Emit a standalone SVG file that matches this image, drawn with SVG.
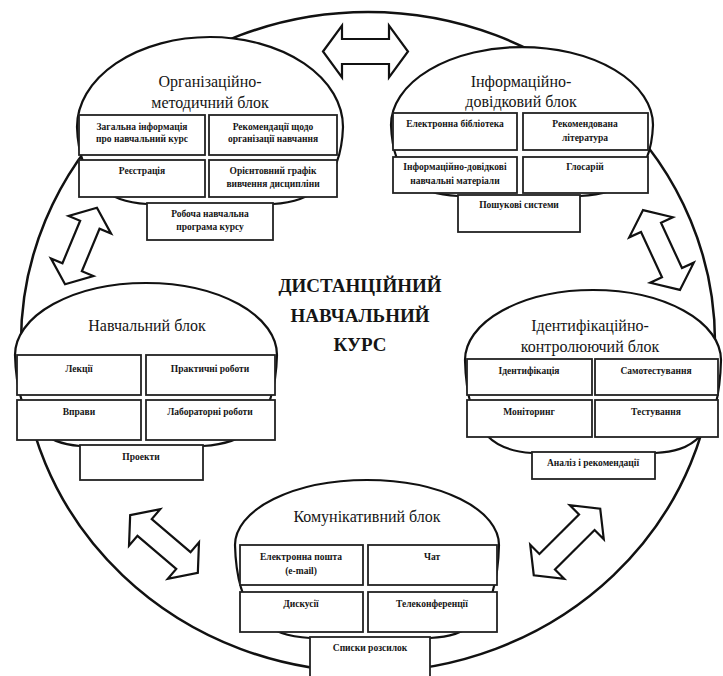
<svg xmlns="http://www.w3.org/2000/svg" width="723" height="676" viewBox="0 0 723 676">
<style>
.bg{fill:#fff}
.ring{fill:none;stroke:#111;stroke-width:2.5}
.dome{fill:#fff;stroke:#111;stroke-width:2.2}
.cell{fill:#fff;stroke:#222;stroke-width:1.8}
.arrow{fill:#fff;stroke:#111;stroke-width:2.2;stroke-linejoin:miter}
.t{fill:#151515;text-anchor:middle;dominant-baseline:middle}
.title{font-size:16px}
.ct{font-size:9.5px;font-weight:bold}
.main{font-size:19px;font-weight:bold}
</style>
<rect class="bg" x="0" y="0" width="723" height="676"/>
<g id="course-boundary">
<ellipse class="ring" cx="368" cy="342" rx="347" ry="330"/>
</g>
<g id="connectors">
<polygon class="arrow" transform="translate(365.5,51.5)" points="-42.5,0 -23.5,-26 -23.5,-12.5 23.5,-12.5 23.5,-26 42.5,0 23.5,26 23.5,12.5 -23.5,12.5 -23.5,26"/>
<polygon class="arrow" transform="translate(81,246) rotate(112.6)" points="-41.5,0 -23,-23 -23,-10.5 23,-10.5 23,-23 41.5,0 23,23 23,10.5 -23,10.5 -23,23"/>
<polygon class="arrow" transform="translate(661.5,250) rotate(65.2)" points="-44,0 -25,-24 -25,-11 25,-11 25,-24 44,0 25,24 25,11 -25,11 -25,24"/>
<polygon class="arrow" transform="translate(164,544) rotate(40.5)" points="-44.5,0 -25.5,-24 -25.5,-11 25.5,-11 25.5,-24 44.5,0 25.5,24 25.5,11 -25.5,11 -25.5,24"/>
<polygon class="arrow" transform="translate(567,542) rotate(135)" points="-47,0 -28,-24 -28,-11 28,-11 28,-24 47,0 28,24 28,11 -28,11 -28,24"/>
</g>
<g id="org-block" font-family="Liberation Serif, DejaVu Serif, serif">
<path class="dome" d="M147,204 C110,202 79,185 77,127 A133,90 0 0 1 343,127 C341,185 310,202 273,204 Z"/>
<text class="t title" x="210" y="83">Організаційно-</text>
<text class="t title" x="210" y="104">методичний блок</text>
<rect class="cell" x="79" y="115" width="126" height="40"/>
<rect class="cell" x="209" y="115" width="128" height="40"/>
<rect class="cell" x="79" y="160" width="126" height="37"/>
<rect class="cell" x="209" y="160" width="128" height="37"/>
<rect class="cell" x="147" y="203" width="126" height="37"/>
<text class="t ct" x="142" y="128">Загальна інформація</text>
<text class="t ct" x="142" y="140">про навчальний курс</text>
<text class="t ct" x="273" y="128">Рекомендації щодо</text>
<text class="t ct" x="273" y="140">організації навчання</text>
<text class="t ct" x="142" y="172">Реєстрація</text>
<text class="t ct" x="273" y="172">Орієнтовний графік</text>
<text class="t ct" x="273" y="185">вивчення дисципліни</text>
<text class="t ct" x="210" y="215">Робоча навчальна</text>
<text class="t ct" x="210" y="228">програма курсу</text>
</g>
<g id="info-block" font-family="Liberation Serif, DejaVu Serif, serif">
<path class="dome" d="M458,196 C420,194 393,180 391,125 A131,78 0 0 1 653,125 C651,180 620,194 580,196 Z"/>
<text class="t title" x="521" y="83">Інформаційно-</text>
<text class="t title" x="521" y="103">довідковий блок</text>
<rect class="cell" x="393" y="113" width="124" height="37"/>
<rect class="cell" x="523" y="113" width="125" height="37"/>
<rect class="cell" x="393" y="157" width="124" height="36"/>
<rect class="cell" x="523" y="157" width="125" height="36"/>
<rect class="cell" x="458" y="195" width="122" height="37"/>
<text class="t ct" x="455" y="125">Електронна бібліотека</text>
<text class="t ct" x="585" y="125">Рекомендована</text>
<text class="t ct" x="585" y="139">література</text>
<text class="t ct" x="455" y="168">Інформаційно-довідкові</text>
<text class="t ct" x="455" y="182">навчальні матеріали</text>
<text class="t ct" x="585" y="168">Глосарій</text>
<text class="t ct" x="519" y="206">Пошукові системи</text>
</g>
<g id="learn-block" font-family="Liberation Serif, DejaVu Serif, serif">
<path class="dome" d="M80,446 C50,444 17,430 15,355 A131,72 0 0 1 277,355 C275,430 240,444 203,446 Z"/>
<text class="t title" x="147" y="327">Навчальний блок</text>
<rect class="cell" x="17" y="355" width="124" height="40"/>
<rect class="cell" x="146" y="355" width="129" height="40"/>
<rect class="cell" x="17" y="400" width="124" height="40"/>
<rect class="cell" x="146" y="400" width="129" height="40"/>
<rect class="cell" x="80" y="445" width="123" height="35"/>
<text class="t ct" x="79" y="370">Лекції</text>
<text class="t ct" x="210" y="370">Практичні роботи</text>
<text class="t ct" x="79" y="413">Вправи</text>
<text class="t ct" x="210" y="413">Лабораторні роботи</text>
<text class="t ct" x="141" y="458">Проекти</text>
</g>
<g id="ident-block" font-family="Liberation Serif, DejaVu Serif, serif">
<path class="dome" d="M532,453 C500,451 467,440 465,360 A128,70 0 0 1 721,360 C719,440 690,451 655,453 Z"/>
<text class="t title" x="590" y="327">Ідентифікаційно-</text>
<text class="t title" x="590" y="348">контролюючий блок</text>
<rect class="cell" x="467" y="359" width="125" height="36"/>
<rect class="cell" x="595" y="359" width="123" height="36"/>
<rect class="cell" x="467" y="400" width="125" height="37"/>
<rect class="cell" x="595" y="400" width="123" height="37"/>
<rect class="cell" x="532" y="452" width="123" height="27"/>
<text class="t ct" x="529" y="372">Ідентифікація</text>
<text class="t ct" x="656" y="372">Самотестування</text>
<text class="t ct" x="529" y="413">Моніторинг</text>
<text class="t ct" x="656" y="413">Тестування</text>
<text class="t ct" x="593" y="464">Аналіз і рекомендації</text>
</g>
<g id="comm-block" font-family="Liberation Serif, DejaVu Serif, serif">
<path class="dome" d="M310,638 C275,636 237,625 235,545 A132,65 0 0 1 499,545 C497,625 465,636 430,638 Z"/>
<text class="t title" x="367" y="518">Комунікативний блок</text>
<rect class="cell" x="240" y="545" width="123" height="40"/>
<rect class="cell" x="368" y="545" width="129" height="40"/>
<rect class="cell" x="240" y="592" width="123" height="40"/>
<rect class="cell" x="368" y="592" width="129" height="40"/>
<rect class="cell" x="310" y="637" width="120" height="45"/>
<text class="t ct" x="301" y="558">Електронна пошта</text>
<text class="t ct" x="301" y="572">(e-mail)</text>
<text class="t ct" x="432" y="558">Чат</text>
<text class="t ct" x="301" y="605">Дискусії</text>
<text class="t ct" x="432" y="605">Телеконференції</text>
<text class="t ct" x="370" y="649">Списки розсилок</text>
</g>
<g id="center-title" font-family="Liberation Serif, DejaVu Serif, serif">
<text class="t main" x="360" y="288">ДИСТАНЦІЙНИЙ</text>
<text class="t main" x="360" y="318">НАВЧАЛЬНИЙ</text>
<text class="t main" x="360" y="347">КУРС</text>
</g>
</svg>
